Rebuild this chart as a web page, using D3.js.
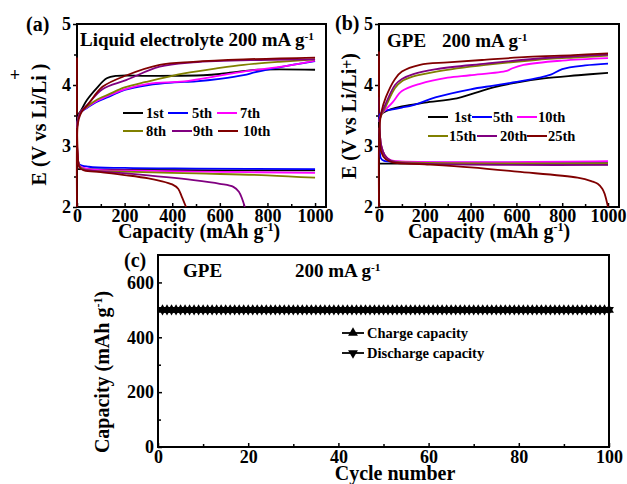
<!DOCTYPE html>
<html>
<head>
<meta charset="utf-8">
<script src="https://cdn.jsdelivr.net/npm/d3@7/dist/d3.min.js"></script>
<style>
  body { margin: 0; background: #fff; }
  svg text { font-family: "Liberation Serif", "Times New Roman", serif; font-weight: bold; fill: #000; }
</style>
</head>
<body>
<svg id="fig" width="627" height="484"></svg>
<script>
// ---------- (a) liquid electrolyte, 200 mA g-1 ----------
const liquidCycles = ["1st", "5th", "7th", "8th", "9th", "10th"];
const liquidColors = ["#000000", "#0000ff", "#ff00ff", "#808000", "#800080", "#800000"];
// charge curves: [capacity (mAh/g), voltage (V)]
const liquidCharge = [
  [[0,3.35],[2,3.5],[15,3.57],[41,3.75],[83,3.95],[125,4.11],[167,4.15],[300,4.15],[530,4.16],[600,4.18],[680,4.22],[760,4.25],[1000,4.25]],
  [[0,3.3],[5,3.45],[15,3.55],[40,3.62],[80,3.72],[135,3.81],[200,3.92],[300,4.0],[400,4.04],[500,4.06],[600,4.1],[700,4.16],[750,4.21],[850,4.29],[1000,4.39]],
  [[0,3.3],[5,3.45],[15,3.55],[40,3.63],[80,3.73],[135,3.83],[200,3.93],[300,4.02],[450,4.06],[593,4.15],[700,4.22],[876,4.31],[1000,4.4]],
  [[0,3.3],[5,3.45],[15,3.56],[40,3.64],[80,3.75],[135,3.85],[200,3.96],[290,4.05],[450,4.19],[600,4.28],[700,4.33],[850,4.38],[1000,4.42]],
  [[0,3.3],[5,3.45],[15,3.56],[40,3.66],[107,3.93],[206,4.08],[347,4.3],[488,4.37],[771,4.41],[1000,4.42]],
  [[0,2.0],[2,3.3],[8,3.45],[20,3.56],[50,3.7],[107,3.97],[209,4.16],[347,4.33],[488,4.38],[700,4.42],[1000,4.45]]
];
// discharge curves
const liquidDischarge = [
  [[0,2.62],[200,2.61],[600,2.6],[1000,2.6]],
  [[0,3.5],[3,2.8],[10,2.7],[50,2.66],[200,2.64],[500,2.63],[1000,2.62]],
  [[0,3.4],[3,2.8],[10,2.68],[50,2.62],[200,2.6],[500,2.58],[1000,2.56]],
  [[0,3.4],[5,2.75],[15,2.65],[50,2.6],[200,2.58],[500,2.55],[800,2.52],[1000,2.48]],
  [[0,3.4],[5,2.75],[15,2.63],[50,2.6],[207,2.55],[490,2.44],[600,2.38],[657,2.33],[680,2.25],[705,2.0]],
  [[0,4.45],[3,2.9],[10,2.65],[30,2.6],[100,2.57],[209,2.52],[300,2.47],[349,2.43],[400,2.37],[425,2.3],[440,2.17],[458,2.0]]
];

// ---------- (b) GPE, 200 mA g-1 ----------
const gpeCycles = ["1st", "5th", "10th", "15th", "20th", "25th"];
const gpeColors = ["#000000", "#0000ff", "#ff00ff", "#808000", "#800080", "#800000"];
const gpeCharge = [
  [[0,3.3],[5,3.5],[20,3.55],[50,3.6],[100,3.65],[200,3.71],[340,3.78],[410,3.86],[500,3.96],[600,4.04],[720,4.11],[870,4.16],[1000,4.2]],
  [[0,3.4],[5,3.52],[20,3.57],[60,3.6],[100,3.63],[150,3.67],[250,3.8],[400,3.93],[500,3.99],[600,4.05],[700,4.12],[750,4.17],[800,4.26],[900,4.32],[1000,4.35]],
  [[0,3.4],[10,3.52],[30,3.6],[60,3.72],[100,3.9],[179,4.02],[300,4.12],[397,4.16],[558,4.23],[580,4.27],[631,4.33],[800,4.4],[1000,4.44]],
  [[0,3.4],[10,3.5],[30,3.65],[70,3.95],[100,4.06],[150,4.14],[250,4.22],[466,4.33],[684,4.41],[850,4.45],[1000,4.48]],
  [[0,3.4],[10,3.52],[30,3.7],[70,4.0],[100,4.1],[150,4.18],[250,4.26],[466,4.35],[684,4.43],[850,4.47],[1000,4.5]],
  [[0,2.0],[2,3.3],[10,3.55],[30,3.8],[70,4.1],[100,4.22],[179,4.33],[300,4.37],[450,4.41],[650,4.46],[850,4.49],[1000,4.52]]
];
const gpeDischarge = [
  [[0,2.71],[300,2.71],[1000,2.7]],
  [[0,3.8],[3,3.0],[8,2.8],[20,2.76],[100,2.74],[1000,2.73]],
  [[0,3.45],[10,3.0],[25,2.85],[50,2.77],[80,2.75],[1000,2.75]],
  [[0,3.45],[10,3.0],[25,2.85],[50,2.76],[80,2.74],[1000,2.72]],
  [[0,3.45],[10,3.0],[25,2.85],[50,2.76],[80,2.73],[1000,2.69]],
  [[0,4.55],[3,3.2],[10,2.9],[30,2.78],[60,2.73],[200,2.7],[400,2.65],[603,2.58],[867,2.48],[930,2.42],[955,2.38],[975,2.3],[985,2.22],[1000,2.0]]
];

// ---------- (c) cycling at 200 mA g-1 ----------
const cycleNumber = [1,2,3,4,5,6,7,8,9,10,11,12,13,14,15,16,17,18,19,20,21,22,23,24,25,26,27,28,29,30,
  31,32,33,34,35,36,37,38,39,40,41,42,43,44,45,46,47,48,49,50,51,52,53,54,55,56,57,58,59,60,
  61,62,63,64,65,66,67,68,69,70,71,72,73,74,75,76,77,78,79,80,81,82,83,84,85,86,87,88,89,90,
  91,92,93,94,95,96,97,98,99,100];
const chargeCapacity = [500,500,500,500,500,500,500,500,500,500,500,500,500,500,500,500,500,500,500,500,
  500,500,500,500,500,500,500,500,500,500,500,500,500,500,500,500,500,500,500,500,
  500,500,500,500,500,500,500,500,500,500,500,500,500,500,500,500,500,500,500,500,
  500,500,500,500,500,500,500,500,500,500,500,500,500,500,500,500,500,500,500,500,
  500,500,500,500,500,500,500,500,500,500,500,500,500,500,500,500,500,500,500,500];
const dischargeCapacity = [500,500,500,500,500,500,500,500,500,500,500,500,500,500,500,500,500,500,500,500,
  500,500,500,500,500,500,500,500,500,500,500,500,500,500,500,500,500,500,500,500,
  500,500,500,500,500,500,500,500,500,500,500,500,500,500,500,500,500,500,500,500,
  500,500,500,500,500,500,500,500,500,500,500,500,500,500,500,500,500,500,500,500,
  500,500,500,500,500,500,500,500,500,500,500,500,500,500,500,500,500,500,500,500];

const voltTicks = [2, 3, 4, 5];
const voltMinor = [2.5, 3.5, 4.5];
const capTicks = [0, 200, 400, 600, 800, 1000];
const capMinor = [100, 300, 500, 700, 900];
const cycleTicks = [0, 20, 40, 60, 80, 100];
const cycleMinor = [10, 30, 50, 70, 90];
const cycCapTicks = [0, 200, 400, 600];
const cycCapMinor = [100, 300, 500];

const svg = d3.select("#fig");

function supText(sel, parts) {
  // parts: [text, isSuperscript]
  parts.forEach(([t, sup]) => {
    const ts = sel.append("tspan").text(t);
    if (sup) ts.attr("font-size", "0.6em").attr("dy", "-0.55em");
    else ts.attr("dy", sel.node().childNodes.length > 1 ? "0.33em" : null);
  });
}

function tidyAxis(g) {
  g.select(".domain").remove();
  g.selectAll("text").attr("font-size", 18).attr("fill", "#000");
  g.selectAll("line").attr("stroke", "#000").attr("stroke-width", 1.5);
}

function voltagePanel(opt) {
  const x = d3.scaleLinear().domain([0, opt.xMax]).range([opt.left, opt.right]);
  const y = d3.scaleLinear().domain([2, 5]).range([opt.bottom, opt.top]);
  const g = svg.append("g");

  // ticks: inward on the capacity axis, outward on the voltage axis
  g.append("g").attr("transform", `translate(0,${opt.bottom})`)
    .call(d3.axisBottom(x).tickValues(capTicks).tickSize(-4).tickPadding(2).tickFormat(d3.format("d")))
    .call(tidyAxis);
  g.append("g").attr("transform", `translate(0,${opt.bottom})`)
    .call(d3.axisBottom(x).tickValues(capMinor).tickSize(-3).tickFormat(""))
    .call(tidyAxis);
  g.append("g").attr("transform", `translate(${opt.left},0)`)
    .call(d3.axisLeft(y).tickValues(voltTicks).tickSize(4).tickPadding(2).tickFormat(d3.format("d")))
    .call(tidyAxis);
  g.append("g").attr("transform", `translate(${opt.left},0)`)
    .call(d3.axisLeft(y).tickValues(voltMinor).tickSize(3).tickFormat(""))
    .call(tidyAxis);

  // frame
  g.append("rect").attr("x", opt.left).attr("y", opt.top)
    .attr("width", opt.right - opt.left).attr("height", opt.bottom - opt.top)
    .attr("fill", "none").attr("stroke", "#000").attr("stroke-width", 2);

  const line = d3.line().x(d => x(d[0])).y(d => y(d[1])).curve(d3.curveCatmullRom.alpha(0.5));
  opt.discharge.forEach((s, i) => {
    g.append("path").attr("d", line(s)).attr("fill", "none")
      .attr("stroke", opt.colors[i]).attr("stroke-width", 1.8);
  });
  opt.charge.forEach((s, i) => {
    g.append("path").attr("d", line(s)).attr("fill", "none")
      .attr("stroke", opt.colors[i]).attr("stroke-width", 1.8);
  });

  // legend
  opt.legend.forEach((p, i) => {
    g.append("line").attr("x1", p[0]).attr("x2", p[0] + 20).attr("y1", p[2]).attr("y2", p[2])
      .attr("stroke", opt.colors[i]).attr("stroke-width", 2);
    g.append("text").attr("x", p[1]).attr("y", p[2] + 5).attr("font-size", 14.5).text(opt.names[i]);
  });

  // capacity axis title
  const xt = g.append("text").attr("x", opt.xTitleX).attr("y", 238).attr("text-anchor", "middle").attr("font-size", 20);
  supText(xt, [["Capacity (mAh g", false], ["-1", true], [")", false]]);
  return g;
}

// panel (a)
const ga = voltagePanel({
  left: 77, right: 326, top: 24, bottom: 207, xMax: 1046,
  charge: liquidCharge, discharge: liquidDischarge, colors: liquidColors, names: liquidCycles,
  legend: [[123,146,113],[168,192,113],[217,240,113],[123,146,131],[172,193,131],[218,243,131]],
  xTitleX: 199
});
ga.append("text").attr("x", 26).attr("y", 31).attr("font-size", 20).text("(a)");
const ta = ga.append("text").attr("x", 80).attr("y", 46).attr("font-size", 19);
supText(ta, [["Liquid electrolyte 200 mA g", false], ["-1", true]]);
ga.append("text").attr("transform", "translate(46,124.5) rotate(-90)").attr("text-anchor", "middle")
  .attr("font-size", 20).text("E (V vs Li/Li )");
ga.append("text").attr("x", 15).attr("y", 81).attr("text-anchor", "middle").attr("font-size", 18).text("+");

// panel (b)
const gb = voltagePanel({
  left: 379, right: 619, top: 24, bottom: 207, xMax: 1048,
  charge: gpeCharge, discharge: gpeDischarge, colors: gpeColors, names: gpeCycles,
  legend: [[428,454,117],[472,493,117],[517,538,117],[428,449,136],[477,500,136],[527,548,136]],
  xTitleX: 489
});
gb.append("text").attr("x", 335).attr("y", 30).attr("font-size", 20).text("(b)");
gb.append("text").attr("x", 387).attr("y", 47).attr("font-size", 19).text("GPE");
const tb = gb.append("text").attr("x", 442).attr("y", 47).attr("font-size", 19);
supText(tb, [["200 mA g", false], ["-1", true]]);
const yb = gb.append("text").attr("transform", "translate(356,116) rotate(-90)").attr("text-anchor", "middle").attr("font-size", 20);
yb.append("tspan").text("E (V vs Li/Li");
yb.append("tspan").attr("font-size", 16).attr("dy", -3).text("+");
yb.append("tspan").attr("dy", 3).text(")");

// panel (c)
(function () {
  const left = 158, right = 609, top = 255, bottom = 447;
  const x = d3.scaleLinear().domain([0, 100]).range([left, right]);
  const y = d3.scaleLinear().domain([0, 700]).range([bottom, top]);
  const g = svg.append("g");

  g.append("g").attr("transform", `translate(0,${bottom})`)
    .call(d3.axisBottom(x).tickValues(cycleTicks).tickSize(-4).tickPadding(3))
    .call(tidyAxis);
  g.append("g").attr("transform", `translate(0,${bottom})`)
    .call(d3.axisBottom(x).tickValues(cycleMinor).tickSize(-3).tickFormat(""))
    .call(tidyAxis);
  g.append("g").attr("transform", `translate(${left},0)`)
    .call(d3.axisLeft(y).tickValues(cycCapTicks).tickSize(-4).tickPadding(4))
    .call(tidyAxis);
  g.append("g").attr("transform", `translate(${left},0)`)
    .call(d3.axisLeft(y).tickValues(cycCapMinor).tickSize(-3).tickFormat(""))
    .call(tidyAxis);

  g.append("rect").attr("x", left).attr("y", top).attr("width", right - left).attr("height", bottom - top)
    .attr("fill", "none").attr("stroke", "#000").attr("stroke-width", 2);

  const line = d3.line().x(d => x(d[0])).y(d => y(d[1]));
  const chg = cycleNumber.map((c, i) => [c, chargeCapacity[i]]);
  const dis = cycleNumber.map((c, i) => [c, dischargeCapacity[i]]);
  const tri = d3.symbol(d3.symbolTriangle, 42)();

  g.append("path").attr("d", line(chg)).attr("fill", "none").attr("stroke", "#000").attr("stroke-width", 1.5);
  g.append("path").attr("d", line(dis)).attr("fill", "none").attr("stroke", "#000").attr("stroke-width", 1.5);
  g.selectAll(".up").data(chg).join("path").attr("d", tri)
    .attr("transform", d => `translate(${x(d[0])},${y(d[1])})`).attr("fill", "#000");
  g.selectAll(".down").data(dis).join("path").attr("d", tri)
    .attr("transform", d => `translate(${x(d[0])},${y(d[1])}) rotate(180)`).attr("fill", "#000");

  // legend
  [["Charge capacity", 0, 333], ["Discharge capacity", 180, 353]].forEach(([label, rot, ly]) => {
    g.append("line").attr("x1", 342).attr("x2", 364).attr("y1", ly).attr("y2", ly).attr("stroke", "#000").attr("stroke-width", 1.8);
    g.append("path").attr("d", tri).attr("transform", `translate(353,${ly}) rotate(${rot})`).attr("fill", "#000");
    g.append("text").attr("x", 367).attr("y", ly + 5).attr("font-size", 14.5).text(label);
  });

  g.append("text").attr("x", 124).attr("y", 267).attr("font-size", 20).text("(c)");
  g.append("text").attr("x", 183).attr("y", 277).attr("font-size", 19).text("GPE");
  const tc = g.append("text").attr("x", 295).attr("y", 277).attr("font-size", 19);
  supText(tc, [["200 mA g", false], ["-1", true]]);

  const yc = g.append("text").attr("transform", "translate(109,372) rotate(-90)").attr("text-anchor", "middle").attr("font-size", 20);
  supText(yc, [["Capacity (mAh g", false], ["-1", true], [")", false]]);
  g.append("text").attr("x", 395).attr("y", 480).attr("text-anchor", "middle").attr("font-size", 20).text("Cycle number");
})();
</script>
</body>
</html>
